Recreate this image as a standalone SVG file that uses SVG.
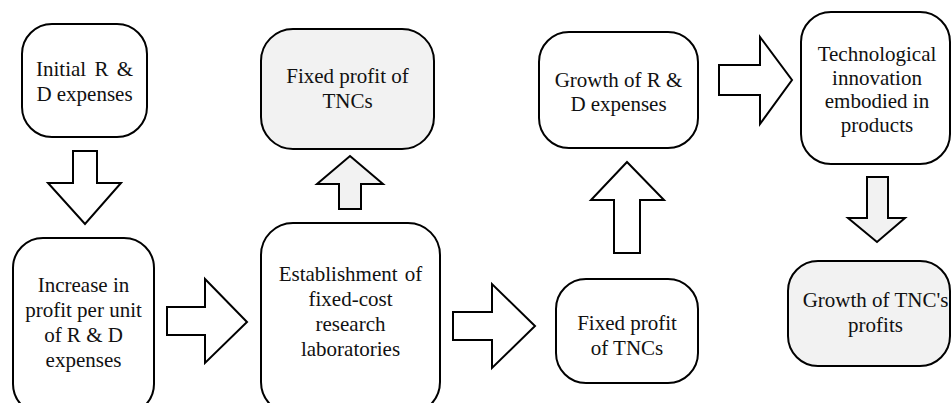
<svg xmlns="http://www.w3.org/2000/svg" width="952" height="403" viewBox="0 0 952 403">
  <style>
    .box { fill: #ffffff; stroke: #000000; stroke-width: 2; }
    .box.shade { fill: #f2f2f2; }
    .arrow { fill: #ffffff; stroke: #000000; stroke-width: 2; stroke-linejoin: miter; }
    .arrow.shade { fill: #f2f2f2; }
  </style>
  <rect width="952" height="403" fill="#ffffff"/>

  <!-- block arrows -->
  <g id="connectors">
    <polygon class="arrow" points="73,151 97,151 97,183 121,183 85,224 48,183 73,183"/>
    <polygon class="arrow" points="167,307 205,307 205,279 247,322 205,363 205,335 167,335"/>
    <polygon class="arrow shade" points="350,156 383,184 361,184 361,209 339,209 339,184 317,184"/>
    <polygon class="arrow" points="453,312 492,312 492,284 535,326 492,368 492,340 453,340"/>
    <polygon class="arrow" points="627,162 664,200 640,200 640,253 614,253 614,200 591,200"/>
    <polygon class="arrow" points="719,65 760,65 760,37 792,80 760,124 760,95 719,95"/>
    <polygon class="arrow shade" points="867,177 888,177 888,218 905,218 877,242 848,218 867,218"/>
  </g>

  <g id="initial-rd" text-anchor="middle" fill="#111111">
    <rect class="box" x="22" y="24" width="125" height="113" rx="30" ry="30"/>
    <text x="84.5" y="76" font-family="'Liberation Serif', serif" font-size="21" word-spacing="3">Initial R &amp;</text>
    <text x="84.5" y="101" font-family="'Liberation Serif', serif" font-size="21">D expenses</text>
  </g>

  <g id="profit-per-unit" text-anchor="middle" fill="#111111">
    <rect class="box" x="13" y="238" width="141" height="176" rx="30" ry="30"/>
    <text x="83.5" y="292" font-family="'Liberation Serif', serif" font-size="21">Increase in</text>
    <text x="83.5" y="317" font-family="'Liberation Serif', serif" font-size="21">profit per unit</text>
    <text x="83.5" y="342" font-family="'Liberation Serif', serif" font-size="21">of R &amp; D</text>
    <text x="83.5" y="367" font-family="'Liberation Serif', serif" font-size="21">expenses</text>
  </g>

  <g id="fixed-profit-top" text-anchor="middle" fill="#111111">
    <rect class="box shade" x="261" y="29" width="173" height="120" rx="32" ry="32"/>
    <text x="347.5" y="83" font-family="'Liberation Serif', serif" font-size="21">Fixed profit of</text>
    <text x="347.5" y="108" font-family="'Liberation Serif', serif" font-size="21">TNCs</text>
  </g>

  <g id="research-labs" text-anchor="middle" fill="#111111">
    <rect class="box" x="261" y="223" width="179" height="191" rx="32" ry="32"/>
    <text x="350.5" y="281" font-family="'Liberation Serif', serif" font-size="21" word-spacing="2">Establishment of</text>
    <text x="350.5" y="306" font-family="'Liberation Serif', serif" font-size="21">fixed-cost</text>
    <text x="350.5" y="331" font-family="'Liberation Serif', serif" font-size="21">research</text>
    <text x="350.5" y="356" font-family="'Liberation Serif', serif" font-size="21">laboratories</text>
  </g>

  <g id="fixed-profit-bottom" text-anchor="middle" fill="#111111">
    <rect class="box" x="556" y="279" width="142" height="104" rx="30" ry="30"/>
    <text x="627" y="330" font-family="'Liberation Serif', serif" font-size="21">Fixed profit</text>
    <text x="627" y="355" font-family="'Liberation Serif', serif" font-size="21">of TNCs</text>
  </g>

  <g id="rd-growth" text-anchor="middle" fill="#111111">
    <rect class="box" x="539" y="32" width="159" height="116" rx="30" ry="30"/>
    <text x="618.5" y="87" font-family="'Liberation Serif', serif" font-size="21">Growth of R &amp;</text>
    <text x="618.5" y="111" font-family="'Liberation Serif', serif" font-size="21">D expenses</text>
  </g>

  <g id="tech-innovation" text-anchor="middle" fill="#111111">
    <rect class="box" x="801" y="12" width="149" height="152" rx="30" ry="30"/>
    <text x="877" y="61" font-family="'Liberation Serif', serif" font-size="21">Technological</text>
    <text x="877" y="84.5" font-family="'Liberation Serif', serif" font-size="21">innovation</text>
    <text x="877" y="108" font-family="'Liberation Serif', serif" font-size="21">embodied in</text>
    <text x="877" y="131.5" font-family="'Liberation Serif', serif" font-size="21">products</text>
  </g>

  <g id="tnc-profit-growth" text-anchor="middle" fill="#111111">
    <rect class="box shade" x="788" y="261" width="162" height="105" rx="30" ry="30"/>
    <text x="875.5" y="307" font-family="'Liberation Serif', serif" font-size="21">Growth of TNC's</text>
    <text x="875.5" y="332" font-family="'Liberation Serif', serif" font-size="21">profits</text>
  </g>
</svg>
